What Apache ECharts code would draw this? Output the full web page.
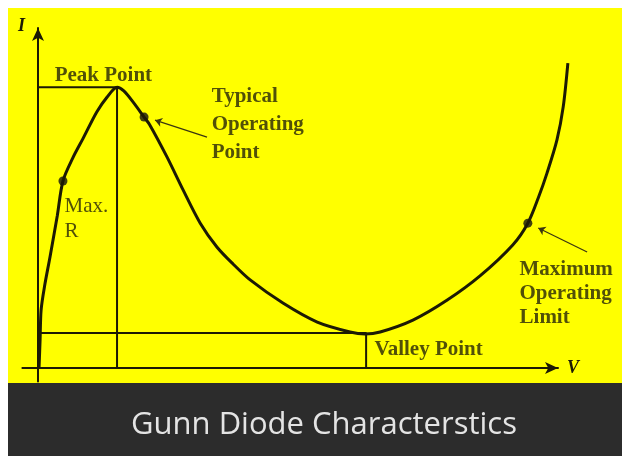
<!DOCTYPE html>
<html>
<head>
<meta charset="utf-8">
<script src="https://cdn.jsdelivr.net/npm/echarts@6/dist/echarts.min.js"></script>
<style>
  html, body { margin: 0; padding: 0; background: #fff; }
  #gunn { width: 622px; height: 456px; }
</style>
</head>
<body>
<div id="gunn"></div>
<script>
// I-V curve of the Gunn diode (V, I in percent of axis)
const curveV = [0.2, 0.4, 0.6, 1.3, 2.3, 3.7, 4.8, 6.7, 8.7, 11.3, 13.3, 15.2, 16.5,
    18.3, 20.4, 21.5, 24.8, 27.9, 31.2, 34.4, 37.5, 40.8, 47.1, 53.7, 60.0, 62.9,
    65.8, 72.1, 78.7, 85.0, 91.3, 94.2, 96.2, 97.9, 99.8, 101.0, 101.9]
const curveI = [0, 8.2, 17.1, 24.4, 32.6, 44.7, 55.0, 61.8, 67.6, 75.3, 79.7, 82.6, 81.5,
    78.2, 73.8, 71.5, 62.1, 52.4, 42.6, 35.6, 30.6, 25.9, 19.1, 13.5, 10.6, 10.0,
    10.6, 14.1, 20.0, 27.1, 36.2, 42.6, 50.0, 57.4, 67.1, 76.8, 89.7]

const peakPoint = [15.2, 82.6]
const valleyPoint = [63.1, 10.3]

// dots on the curve: Max. R, typical operating point, maximum operating limit
const dotPoints = [[4.8, 55.0], [20.4, 73.8], [94.2, 42.6]]

// pointer arrows [tail, head]
const pointerArrows = [
    [[32.5, 67.9], [22.5, 72.9]],
    [[105.6, 34.1], [96.2, 41.2]]
]

// text notes: [V, I, text, bold, lineHeight]
const notes = [
    [3.3, 89.2, 'Peak Point', true, 22],
    [33.5, 83.8, 'Typical\nOperating\nPoint', true, 28],
    [5.2, 51.0, 'Max.\nR', false, 25],
    [64.8, 8.4, 'Valley Point', true, 22],
    [92.7, 32.3, 'Maximum\nOperating\nLimit', true, 24]
]

const inkColor = '#1c1a04'
const serifFont = '"Liberation Serif", "DejaVu Serif", serif'

const chart = echarts.init(document.getElementById('gunn'))

const curveData = curveV.map((v, i) => [v, curveI[i]])

// the curve runs a little past the V arrow, so it lives in a second, wider
// grid that shares the same scale as the visible axes
const hiddenAxis = {
    axisLine: { show: false },
    axisTick: { show: false },
    axisLabel: { show: false },
    splitLine: { show: false }
}

const option = {
    animation: false,
    title: {
        text: 'Gunn Diode Characterstics',
        left: 126,
        top: 405,
        textStyle: {
            color: '#e4e4e4',
            fontFamily: '"Open Sans", "Noto Sans", sans-serif',
            fontWeight: 'normal',
            fontSize: 31
        }
    },
    graphic: [
        { type: 'rect', z: -10, shape: { x: 8, y: 8, width: 614, height: 375 }, style: { fill: '#ffff00' } },
        { type: 'rect', z: -10, shape: { x: 8, y: 383, width: 614, height: 73 }, style: { fill: '#2c2c2c' } }
    ],
    grid: [
        { left: 22.4, right: 64, top: 28, bottom: 74.4 },
        { left: 22.4, right: 48.4, top: 28, bottom: 74.4 }
    ],
    xAxis: [
        {
            type: 'value',
            gridIndex: 0,
            min: -3,
            max: 100,
            name: 'V',
            nameLocation: 'end',
            nameGap: 9,
            nameTextStyle: { color: inkColor, fontFamily: serifFont, fontStyle: 'italic', fontWeight: 'bold', fontSize: 18 },
            axisLine: {
                onZero: true,
                symbol: ['none', 'arrow'],
                symbolSize: [9, 13],
                lineStyle: { color: inkColor, width: 2 }
            },
            axisTick: { show: false },
            axisLabel: { show: false },
            splitLine: { show: false }
        },
        { type: 'value', gridIndex: 1, min: -3, max: 103, ...hiddenAxis }
    ],
    yAxis: [
        {
            type: 'value',
            gridIndex: 0,
            min: -4,
            max: 100,
            name: 'I',
            nameLocation: 'end',
            nameGap: 2,
            nameTextStyle: {
                color: inkColor, fontFamily: serifFont, fontStyle: 'italic', fontWeight: 'bold', fontSize: 18,
                align: 'right', verticalAlign: 'middle', padding: [0, 13, 0, 0]
            },
            axisLine: {
                onZero: true,
                symbol: ['none', 'arrow'],
                symbolSize: [9, 13],
                lineStyle: { color: inkColor, width: 2 }
            },
            axisTick: { show: false },
            axisLabel: { show: false },
            splitLine: { show: false }
        },
        { type: 'value', gridIndex: 1, min: -4, max: 100, ...hiddenAxis }
    ],
    series: [
        {
            name: 'peak',
            type: 'line',
            symbol: 'none',
            lineStyle: { color: inkColor, width: 2 },
            data: [[0, peakPoint[1]], peakPoint, [peakPoint[0], 0]]
        },
        {
            name: 'valley',
            type: 'line',
            symbol: 'none',
            lineStyle: { color: inkColor, width: 2 },
            data: [[0, valleyPoint[1]], valleyPoint, [valleyPoint[0], 0]]
        },
        {
            name: 'I-V',
            type: 'line',
            xAxisIndex: 1,
            yAxisIndex: 1,
            smooth: 0.3,
            symbol: 'none',
            lineStyle: { color: inkColor, width: 3 },
            data: curveData
        },
        {
            name: 'dots',
            type: 'scatter',
            xAxisIndex: 1,
            yAxisIndex: 1,
            symbolSize: 9,
            itemStyle: { color: '#111' },
            data: dotPoints
        },
        {
            name: 'pointers',
            type: 'lines',
            coordinateSystem: 'cartesian2d',
            xAxisIndex: 1,
            yAxisIndex: 1,
            symbol: ['none', 'arrow'],
            symbolSize: 7,
            clip: false,
            lineStyle: { color: '#3a3510', width: 1.2, opacity: 1 },
            data: pointerArrows.map(a => ({ coords: a }))
        },
        {
            name: 'notes',
            type: 'scatter',
            xAxisIndex: 1,
            yAxisIndex: 1,
            symbolSize: 1,
            clip: false,
            itemStyle: { color: 'rgba(0,0,0,0)' },
            data: notes.map(n => ({
                value: [n[0], n[1]],
                label: {
                    show: true,
                    position: [0, 0],
                    align: 'left',
                    verticalAlign: 'top',
                    formatter: n[2],
                    color: '#26240a',
                    fontFamily: serifFont,
                    fontWeight: n[3] ? 'bold' : 'normal',
                    fontSize: 21,
                    lineHeight: n[4]
                }
            }))
        }
    ]
}

chart.setOption(option)
</script>
</body>
</html>
